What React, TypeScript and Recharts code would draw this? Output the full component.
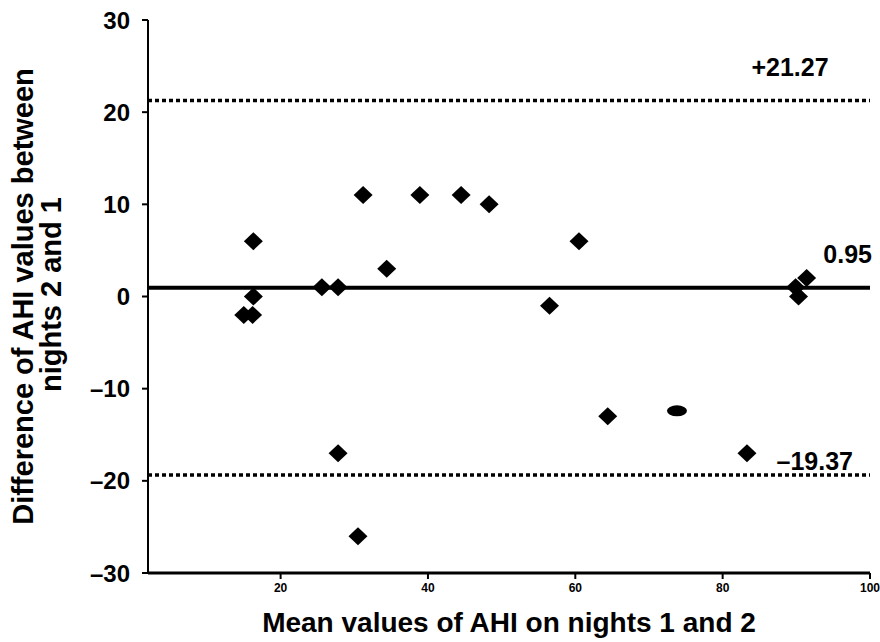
import React from "react"
import { ScatterChart, Scatter, XAxis, YAxis, ReferenceLine } from "recharts"

// mean of nights 1 and 2 (x) and difference night 2 - night 1 (y)
const means = [15.0, 16.2, 16.3, 16.3, 25.6, 27.8, 27.8, 30.5, 31.2, 34.4, 38.9, 44.5, 48.3, 56.5, 60.5, 64.4, 83.3, 89.9, 90.3, 91.4]
const diffs = [-2, -2, 0, 6, 1, 1, -17, -26, 11, 3, 11, 11, 10, -1, 6, -13, -17, 1, 0, 2]

// one point in the scan is smeared into an oval
const smearMeans = [73.8]
const smearDiffs = [-12.4]

const meanDiff = 0.95
const upperLimit = 21.27
const lowerLimit = -19.37

const xTicks = [20, 40, 60, 80, 100]
const yTicks = [-30, -20, -10, 0, 10, 20, 30]

const points = means.map((m, i) => ({ mean: m, diff: diffs[i] }))
const smearPoints = smearMeans.map((m, i) => ({ mean: m, diff: smearDiffs[i] }))

const FONT = "'Liberation Sans', Arial, sans-serif"

const fmt = (v: number) => (v < 0 ? `\u2013${Math.abs(v)}` : `${v}`)

const Diamond = (props: any) => {
  const { cx, cy } = props
  return <polygon points={`${cx},${cy - 9} ${cx + 9.5},${cy} ${cx},${cy + 9} ${cx - 9.5},${cy}`} fill="#000" />
}

const Oval = (props: any) => {
  const { cx, cy } = props
  return <ellipse cx={cx} cy={cy} rx={10} ry={5.5} fill="#000" />
}

const YTitle = (props: any) => {
  const vb = props.viewBox || { x: 0, y: 20, width: 148, height: 553 }
  const cy = vb.y + vb.height / 2
  return (
    <g fontFamily={FONT} fontSize={29} fontWeight="bold" fill="#000">
      <text transform={`translate(${vb.x + 33},${cy}) rotate(-90)`} textAnchor="middle">
        Difference of AHI values between
      </text>
      <text transform={`translate(${vb.x + 61},${cy - 2}) rotate(-90)`} textAnchor="middle">
        nights 2 and 1
      </text>
    </g>
  )
}

const lineLabel = (text: string, anchor: "middle" | "end", dx: number, dy: number) => (props: any) => {
  const vb = props.viewBox
  if (!vb) return null
  return (
    <text x={vb.x + vb.width + dx} y={vb.y + dy} textAnchor={anchor} fontFamily={FONT} fontWeight="bold" fontSize={25} fill="#000">
      {text}
    </text>
  )
}

export default function App() {
  return (
    <div style={{ position: "absolute", left: 0, top: 0, background: "#fff" }}>
      <ScatterChart width={880} height={642} margin={{ top: 20, right: 10, bottom: 0, left: 0 }}>
        <XAxis
          type="number"
          dataKey="mean"
          domain={[2, 100]}
          ticks={xTicks}
          height={69}
          axisLine={{ stroke: "#000", strokeWidth: 3 }}
          tickLine={{ stroke: "#000", strokeWidth: 2 }}
          tickSize={6}
          tickMargin={4}
          tick={{ fill: "#000", fontSize: 12, fontWeight: "bold", fontFamily: FONT }}
          label={{ value: "Mean values of AHI on  nights 1 and 2", position: "insideBottom", offset: 10, fill: "#000", fontSize: 28, fontWeight: "bold", fontFamily: FONT }}
        />
        <YAxis
          type="number"
          dataKey="diff"
          domain={[-30, 30]}
          ticks={yTicks}
          width={148}
          axisLine={{ stroke: "#000", strokeWidth: 2 }}
          tickLine={{ stroke: "#000", strokeWidth: 2 }}
          tickSize={6}
          tickMargin={12}
          tickFormatter={fmt}
          tick={{ fill: "#000", fontSize: 24, fontWeight: "bold", fontFamily: FONT }}
          label={<YTitle />}
        />
        <ReferenceLine
          y={upperLimit}
          stroke="#000"
          strokeWidth={3.5}
          strokeDasharray="4 3"
          label={lineLabel("+21.27", "middle", -80, -24)}
        />
        <ReferenceLine y={meanDiff} stroke="#000" strokeWidth={4} label={lineLabel("0.95", "end", 2, -25)} />
        <ReferenceLine
          y={lowerLimit}
          stroke="#000"
          strokeWidth={3.5}
          strokeDasharray="4 3"
          label={lineLabel("\u201319.37", "end", -17, -5)}
        />
        <Scatter data={points} shape={<Diamond />} isAnimationActive={false} />
        <Scatter data={smearPoints} shape={<Oval />} isAnimationActive={false} />
      </ScatterChart>
    </div>
  )
}
